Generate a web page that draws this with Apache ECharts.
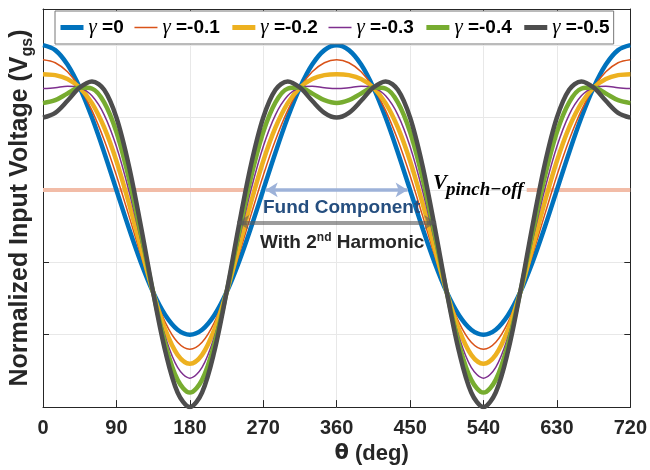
<!DOCTYPE html>
<html>
<head>
<meta charset="utf-8">
<script src="https://cdn.jsdelivr.net/npm/echarts@6/dist/echarts.min.js"></script>
<style>html,body{margin:0;padding:0;background:#fff}#c{width:650px;height:470px}</style>
</head>
<body>
<div id="c"></div>
<script>
// theta (deg)
const theta = [0,15,30,45,60,75,90,105,120,135,150,165,180,195,210,225,240,255,270,285,300,315,330,345,360,
  375,390,405,420,435,450,465,480,495,510,525,540,555,570,585,600,615,630,645,660,675,690,705,720];
const names = ['γ =0','γ =-0.1','γ =-0.2','γ =-0.3','γ =-0.4','γ =-0.5'];
const g0 = [1,.966,.866,.707,.5,.259,0,-.259,-.5,-.707,-.866,-.966,-1,-.966,-.866,-.707,-.5,-.259,0,.259,.5,.707,.866,.966,1,
  .966,.866,.707,.5,.259,0,-.259,-.5,-.707,-.866,-.966,-1,-.966,-.866,-.707,-.5,-.259,0,.259,.5,.707,.866,.966,1];
const g1 = [.9,.879,.816,.707,.55,.345,.1,-.172,-.45,-.707,-.916,-1.052,-1.1,-1.052,-.916,-.707,-.45,-.172,.1,.345,.55,.707,.816,.879,.9,
  .879,.816,.707,.55,.345,.1,-.172,-.45,-.707,-.916,-1.052,-1.1,-1.052,-.916,-.707,-.45,-.172,.1,.345,.55,.707,.816,.879,.9];
const g2 = [.8,.793,.766,.707,.6,.432,.2,-.086,-.4,-.707,-.966,-1.139,-1.2,-1.139,-.966,-.707,-.4,-.086,.2,.432,.6,.707,.766,.793,.8,
  .793,.766,.707,.6,.432,.2,-.086,-.4,-.707,-.966,-1.139,-1.2,-1.139,-.966,-.707,-.4,-.086,.2,.432,.6,.707,.766,.793,.8];
const g3 = [.7,.706,.716,.707,.65,.519,.3,.001,-.35,-.707,-1.016,-1.226,-1.3,-1.226,-1.016,-.707,-.35,.001,.3,.519,.65,.707,.716,.706,.7,
  .706,.716,.707,.65,.519,.3,.001,-.35,-.707,-1.016,-1.226,-1.3,-1.226,-1.016,-.707,-.35,.001,.3,.519,.65,.707,.716,.706,.7];
const g4 = [.6,.62,.666,.707,.7,.605,.4,.087,-.3,-.707,-1.066,-1.312,-1.4,-1.312,-1.066,-.707,-.3,.087,.4,.605,.7,.707,.666,.62,.6,
  .62,.666,.707,.7,.605,.4,.087,-.3,-.707,-1.066,-1.312,-1.4,-1.312,-1.066,-.707,-.3,.087,.4,.605,.7,.707,.666,.62,.6];
const g5 = [.5,.533,.616,.707,.75,.692,.5,.174,-.25,-.707,-1.116,-1.399,-1.5,-1.399,-1.116,-.707,-.25,.174,.5,.692,.75,.707,.616,.533,.5,
  .533,.616,.707,.75,.692,.5,.174,-.25,-.707,-1.116,-1.399,-1.5,-1.399,-1.116,-.707,-.25,.174,.5,.692,.75,.707,.616,.533,.5];
const seriesValues = [g0,g1,g2,g3,g4,g5];
const colors = ['#0072BD','#D95319','#EDB120','#7E2F8E','#77AC30','#4D4D4D'];
const widths = [4.5,1.5,4.5,1.5,4.5,4.5];
// pinch-off level (two visible pieces)
const pinchA = [[0,0],[250,0]];
const pinchB = [[593,0],[720,0]];
// annotation arrows
const fundArrow = [[273,0],[447,0]];
const harmArrow = [[238,-0.224],[482,-0.224]];
const xTicks = {min:0, max:720, interval:90};
const yTicks = {min:-1.5, max:1.25, interval:0.5};

const axisCol = '#262626';
const chart = echarts.init(document.getElementById('c'), null, {renderer:'canvas'});

const series = [];
series.push({type:'line', name:'pinchA', data:pinchA, symbol:'none', silent:true,
  lineStyle:{color:'#F2BCA7', width:4}, z:1});
series.push({type:'line', name:'pinchB', data:pinchB, symbol:'none', silent:true,
  lineStyle:{color:'#F2BCA7', width:4}, z:1});
seriesValues.forEach((vals,i)=>{
  series.push({
    type:'line', name:names[i], symbol:'none', smooth:0.34, silent:true,
    data: theta.map((t,k)=>[t, vals[k]]),
    lineStyle:{color:colors[i], width:widths[i]}, itemStyle:{color:colors[i]}, z:2
  });
});
series.push({type:'line', name:'arrows', data:[], symbol:'none', silent:true,
  markLine:{silent:true, animation:false, symbol:['arrow','arrow'], symbolSize:[11,12], label:{show:false},
    data:[
      [{coord:fundArrow[0], lineStyle:{color:'#9DB2D9', width:3.5, type:'solid'}, itemStyle:{color:'#9DB2D9'}},{coord:fundArrow[1]}],
      [{coord:harmArrow[0], lineStyle:{color:'rgba(90,90,90,0.6)', width:4, type:'solid'}, itemStyle:{color:'rgba(70,70,70,0.7)'}},{coord:harmArrow[1]}]
    ]}});

const option = {
  animation:false,
  backgroundColor:'#fff',
  grid:{left:43, right:19, top:9, bottom:61, containLabel:false},
  legend:{
    data: names.map((n,i)=>({name:n,
      lineStyle:{width:widths[i]===1.5?1.5:5, color:colors[i]},
      itemStyle:{color:'rgba(0,0,0,0)', borderColor:'rgba(0,0,0,0)', borderWidth:0}})),
    left:55, top:11, padding:[6,4,6,3], itemGap:10, itemWidth:23, itemHeight:14,
    backgroundColor:'#fff', borderColor:'#777', borderWidth:1, borderRadius:0,
    formatter: n => '{g|γ} {t|' + n.slice(2) + '}',
    textStyle:{fontFamily:'Liberation Sans', fontWeight:'bold', fontSize:19, color:'#000',
      rich:{g:{fontFamily:'Liberation Serif', fontSize:21, fontWeight:'normal', fontStyle:'italic', color:'#000'},
            t:{fontFamily:'Liberation Sans', fontWeight:'bold', fontSize:19, color:'#000'}}}
  },
  xAxis:[{
    type:'value', min:xTicks.min, max:xTicks.max, interval:xTicks.interval,
    name:'{th|θ} {t|(deg)}', nameLocation:'middle', nameGap:33,
    nameTextStyle:{padding:[0,0,0,70], fontFamily:'Liberation Sans', fontWeight:'bold', fontSize:22, color:axisCol,
      rich:{th:{fontFamily:'DejaVu Sans', fontWeight:'bold', fontSize:21, color:axisCol},
            t:{fontFamily:'Liberation Sans', fontWeight:'bold', fontSize:22, color:axisCol}}},
    axisLine:{show:true, onZero:false, lineStyle:{color:axisCol, width:1}},
    axisTick:{show:true, inside:true, length:7, lineStyle:{color:axisCol}},
    axisLabel:{show:true, margin:11, fontFamily:'Liberation Sans', fontWeight:'bold', fontSize:20, color:axisCol},
    splitLine:{show:true, lineStyle:{color:'#E8E8E8', width:1}}
  },{
    type:'value', position:'top', min:xTicks.min, max:xTicks.max, interval:xTicks.interval,
    axisLine:{show:true, onZero:false, lineStyle:{color:axisCol, width:1}},
    axisTick:{show:true, inside:true, length:7, lineStyle:{color:axisCol}},
    axisLabel:{show:false}, splitLine:{show:false}
  }],
  yAxis:[{
    type:'value', min:yTicks.min, max:yTicks.max, interval:yTicks.interval,
    name:'{a|Normalized Input Voltage (V}{s|gs}{a|)}', nameLocation:'middle', nameGap:7,
    nameTextStyle:{fontFamily:'Liberation Sans', fontWeight:'bold', fontSize:25, color:axisCol,
      rich:{a:{fontFamily:'Liberation Sans', fontWeight:'bold', fontSize:25, color:axisCol, lineHeight:31, verticalAlign:'middle'},
            s:{fontFamily:'Liberation Sans', fontWeight:'bold', fontSize:16, color:axisCol, lineHeight:16, verticalAlign:'bottom'}}},
    axisLine:{show:true, onZero:false, lineStyle:{color:axisCol, width:1}},
    axisTick:{show:true, inside:true, length:6, lineStyle:{color:axisCol}},
    axisLabel:{show:false},
    splitLine:{show:true, lineStyle:{color:'#E8E8E8', width:1}}
  },{
    type:'value', position:'right', min:yTicks.min, max:yTicks.max, interval:yTicks.interval,
    axisLine:{show:true, onZero:false, lineStyle:{color:axisCol, width:1}},
    axisTick:{show:true, inside:true, length:6, lineStyle:{color:axisCol}},
    axisLabel:{show:false}, splitLine:{show:false}
  }],
  series: series,
  graphic:[
    {type:'text', z:100, silent:true, style:{x:263, y:207.5, text:'Fund Component', fill:'#254E7F',
      font:'bold 19px "Liberation Sans"', textAlign:'left', textVerticalAlign:'middle', verticalAlign:'middle'}},
    {type:'text', z:100, silent:true, style:{x:260, y:243, text:'{a|With 2}{s|nd}{a| Harmonic}', fill:'#262626',
      verticalAlign:'middle', textVerticalAlign:'middle',
      rich:{a:{font:'bold 19px "Liberation Sans"', fill:'#262626', lineHeight:22, verticalAlign:'middle'},
            s:{font:'bold 12px "Liberation Sans"', fill:'#262626', lineHeight:22, verticalAlign:'top'}}}},
    {type:'text', z:100, silent:true, style:{x:433, y:184, text:'V', fill:'#000',
      font:'italic bold 21px "Liberation Serif"', verticalAlign:'middle', textVerticalAlign:'middle'}},
    {type:'text', z:100, silent:true, style:{x:446, y:190.5, text:'pinch−off', fill:'#000',
      font:'italic bold 19px "Liberation Serif"', verticalAlign:'middle', textVerticalAlign:'middle'}}
  ]
};
chart.setOption(option);
</script>
</body>
</html>
